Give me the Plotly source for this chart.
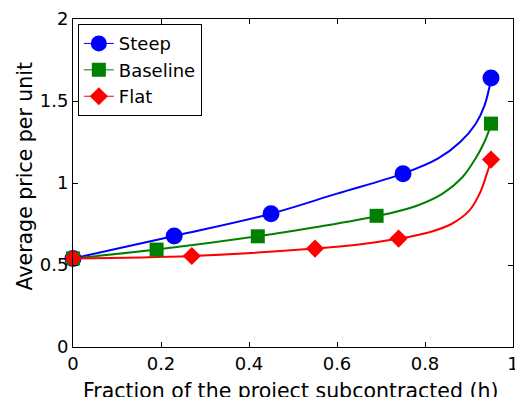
import plotly.graph_objects as go

# Marker positions
steep_h = [0.0, 0.23, 0.45, 0.75, 0.95]
steep_p = [0.54, 0.677, 0.813, 1.057, 1.64]
base_h = [0.0, 0.19, 0.42, 0.69, 0.95]
base_p = [0.54, 0.594, 0.675, 0.80, 1.362]
flat_h = [0.0, 0.27, 0.55, 0.74, 0.95]
flat_p = [0.54, 0.555, 0.60, 0.661, 1.143]

# Curves
steep_curve_h = [0.0, 0.23, 0.45, 0.6, 0.75, 0.83, 0.88, 0.915, 0.935, 0.951]
steep_curve_p = [0.54, 0.677, 0.813, 0.935, 1.057, 1.15, 1.25, 1.36, 1.47, 1.643]
base_curve_h = [0.0, 0.19, 0.42, 0.55, 0.698, 0.78, 0.84, 0.885, 0.915, 0.935, 0.951]
base_curve_p = [0.54, 0.594, 0.675, 0.73, 0.802, 0.86, 0.935, 1.035, 1.15, 1.25, 1.362]
flat_curve_h = [0.0, 0.27, 0.55, 0.65, 0.741, 0.81, 0.86, 0.9, 0.925, 0.941, 0.951]
flat_curve_p = [0.54, 0.555, 0.60, 0.625, 0.661, 0.70, 0.75, 0.83, 0.94, 1.06, 1.143]

x_ticks = [0, 0.2, 0.4, 0.6, 0.8, 1]
x_tick_labels = ["0", "0.2", "0.4", "0.6", "0.8", "1"]
y_ticks = [0, 0.5, 1, 1.5, 2]
y_tick_labels = ["0", "0.5", "1", "1.5", "2"]

series = [
    ("Steep", "#0000ff", "circle", 17, steep_h, steep_p, steep_curve_h, steep_curve_p),
    ("Baseline", "#008000", "square", 14, base_h, base_p, base_curve_h, base_curve_p),
    ("Flat", "#ff0000", "diamond", 14, flat_h, flat_p, flat_curve_h, flat_curve_p),
]

fig = go.Figure()
for name, col, sym, sz, mh, mp, ch, cp in series:
    fig.add_trace(go.Scatter(x=ch, y=cp, mode="lines", line=dict(color=col, width=2, shape="spline", smoothing=1.0),
                             showlegend=False, hoverinfo="skip", cliponaxis=False))
for name, col, sym, sz, mh, mp, ch, cp in series:
    fig.add_trace(go.Scatter(x=mh, y=mp, mode="markers", marker=dict(color=col, symbol=sym, size=sz, line=dict(width=0)),
                             showlegend=False, cliponaxis=False))
for name, col, sym, sz, mh, mp, ch, cp in series:
    fig.add_trace(go.Scatter(x=[None], y=[None], mode="lines+markers", name=name,
                             line=dict(color=col, width=1),
                             marker=dict(color=col, symbol=sym, size=sz)))

font = "DejaVu Sans, Liberation Sans, Arial, sans-serif"
axis_common = dict(showline=True, linecolor="black", linewidth=1, mirror="allticks", ticks="inside",
                   ticklen=5, tickcolor="black", showgrid=False, zeroline=False, automargin=False,
                   ticklabeloverflow="allow",
                   tickfont=dict(family=font, size=18, color="black"))
fig.update_layout(
    width=515, height=397,
    margin=dict(l=73, r=2, t=19, b=50, autoexpand=False),
    paper_bgcolor="white", plot_bgcolor="white",
    xaxis=dict(range=[0, 1], tickvals=x_ticks, ticktext=x_tick_labels, **axis_common),
    yaxis=dict(range=[0, 2], tickvals=y_ticks, ticktext=y_tick_labels, **axis_common),
    annotations=[
        dict(text="Fraction of the project subcontracted (h)", xref="paper", yref="paper",
             x=0.495, y=0, yshift=-30, xanchor="center", yanchor="top", showarrow=False,
             font=dict(family=font, size=20.5, color="black")),
        dict(text="Average price per unit", xref="paper", yref="paper", textangle=-90,
             x=0, xshift=-62, y=0.52, xanchor="left", yanchor="middle", showarrow=False,
             font=dict(family=font, size=20.5, color="black")),
    ],
    legend=dict(x=0.011, y=0.984, xanchor="left", yanchor="top", bgcolor="white",
                bordercolor="black", borderwidth=1, font=dict(family=font, size=18, color="black"),
                tracegroupgap=0, itemwidth=30),
    showlegend=True,
)
fig.write_html("out.html", config={"displayModeBar": False},
               post_script="document.body.style.margin='0';document.body.style.overflow='hidden';")
